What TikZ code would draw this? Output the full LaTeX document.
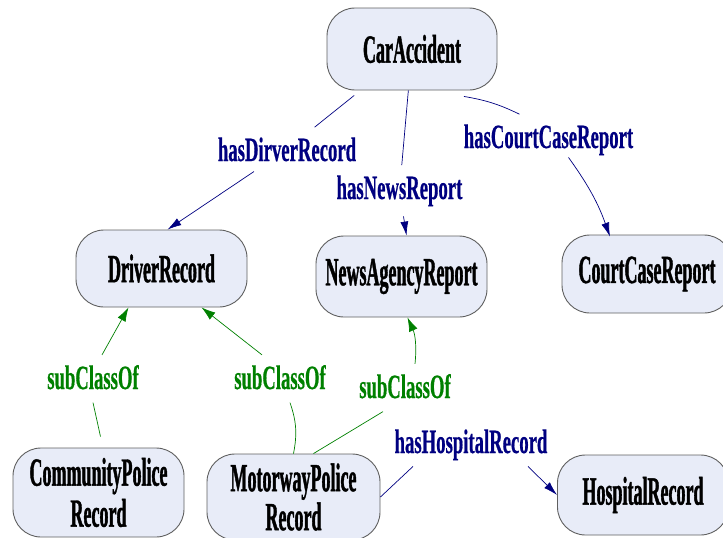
\documentclass[tikz,border=0pt]{standalone}
\usepackage{fontspec}
\newfontfamily\nodefont{Liberation Serif}[FakeStretch=0.45,FakeBold=1.0]
\newfontfamily\labelfont{Liberation Serif}[FakeStretch=0.55,FakeBold=0.5]
\usetikzlibrary{arrows.meta}
\definecolor{nodefill}{RGB}{232,236,248}
\definecolor{nodeline}{RGB}{95,95,95}
\definecolor{relblue}{RGB}{0,0,128}
\definecolor{subgreen}{RGB}{0,128,0}

\begin{document}
\begin{tikzpicture}[x=1pt,y=-1pt,
  concept/.style={draw=nodeline, line width=0.9pt, fill=nodefill,
    rounded corners=28pt, minimum width=171pt, minimum height=80pt,
    align=center, inner sep=0pt,
    font=\nodefont\bfseries\fontsize{40}{41}\selectfont},
  rellabel/.style={text=relblue, anchor=base, inner xsep=6pt, inner ysep=10pt,
    font=\labelfont\bfseries\fontsize{34}{34}\selectfont},
  sublabel/.style={rellabel, text=subgreen},
  rel/.style={draw=relblue, line width=0.7pt},
  relarrow/.style={rel, -{Latex[length=14pt,width=8pt]}},
  sub/.style={draw=subgreen, line width=0.7pt},
  subarrow/.style={sub, -{Latex[length=14pt,width=9pt]}},
]
\clip (0,0) rectangle (723,538);

% classes
\node[concept, minimum width=170pt, minimum height=82pt] (ca) at (412,49) {CarAccident};
\node[concept, minimum height=77pt] (dr) at (161.5,268.5) {DriverRecord};
\node[concept, minimum height=81pt] (na) at (401.5,276.5) {NewsAgencyReport};
\node[concept, minimum width=170pt, minimum height=78pt] (cc) at (647,274) {CourtCaseReport};
\node[concept, minimum height=89pt] (cp) at (98.5,492.5) {CommunityPolice\\Record};
\node[concept, minimum width=173pt, minimum height=86pt] (mp) at (293.5,497) {MotorwayPolice\\[-2pt]Record};
\node[concept, minimum height=80pt] (hr) at (643,495) {HospitalRecord};

% property labels
\node[rellabel] (lDR) at (287,161) {hasDirverRecord};
\node[rellabel] (lNR) at (399.5,199) {hasNewsReport};
\node[rellabel] (lCC) at (548.5,148) {hasCourtCaseReport};
\node[rellabel] (lHR) at (471,453) {hasHospitalRecord};
\node[sublabel] (l1) at (93,389) {subClassOf};
\node[sublabel] (l2) at (280,389) {subClassOf};
\node[sublabel] (l3) at (405,398) {subClassOf};

% object properties
\draw[rel, shorten <=8pt] (ca) -- (lDR);
\draw[relarrow] (lDR) -- ([xshift=6pt]dr.north);
\draw[rel] (ca) -- (lNR);
\draw[relarrow] (lNR) -- ([xshift=5pt]na.north);
\draw[rel] ([xshift=52pt,yshift=-6pt]ca.south) to[bend left=8] ([xshift=-29pt]lCC.north);
\draw[relarrow] ([xshift=20pt,yshift=8pt]lCC.south) to[bend left=8] ([xshift=-37pt,yshift=-2pt]cc.north);
\draw[rel] (mp.east) -- ([xshift=-58pt,yshift=4pt]lHR.south);
\draw[relarrow] ([xshift=57pt,yshift=4pt]lHR.south) -- (hr.west);

% subclass links
\draw[sub] ([xshift=2pt,yshift=11pt]cp.north) -- ([yshift=-3pt]l1.south);
\draw[subarrow] ([xshift=9pt]l1.north) -- ([xshift=-33pt]dr.south);
\draw[sub] (mp.north) to[bend right=15] ([xshift=10pt,yshift=-3pt]l2.south);
\draw[subarrow] ([xshift=-18pt]l2.north) -- ([xshift=40pt]dr.south);
\draw[sub] ([xshift=20pt]mp.north) -- ([xshift=-22pt,yshift=-3pt]l3.south);
\draw[subarrow] ([xshift=10pt]l3.north) to[bend right=15] ([xshift=6pt]na.south);
\end{tikzpicture}
\end{document}
